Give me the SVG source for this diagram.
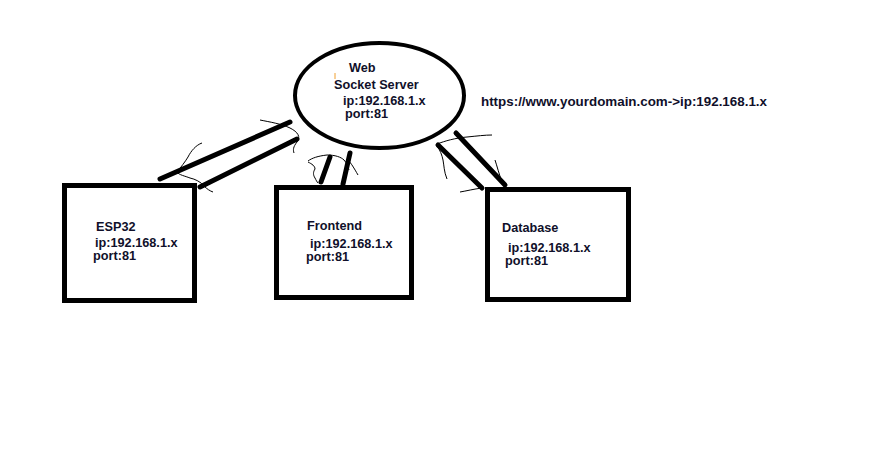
<svg xmlns="http://www.w3.org/2000/svg" width="883" height="460" viewBox="0 0 883 460">
<style>
  .box { fill: #ffffff; stroke: #000000; stroke-width: 5; }
  .ell { fill: #ffffff; stroke: #000000; stroke-width: 4; }
  .t { font-family: "Liberation Sans", Arial, sans-serif; font-weight: bold; font-size: 12.7px; fill: #10102a; }
  .thick { stroke: #000000; stroke-width: 5; stroke-linecap: round; fill: none; }
  .thin { stroke: #000000; stroke-width: 1; fill: none; }
</style>
<rect width="883" height="460" fill="#ffffff"/>

<g id="connectors">
  <!-- ESP32 <-> Server -->
  <line class="thick" x1="160" y1="179" x2="290" y2="122"/>
  <line class="thick" x1="200" y1="187" x2="297" y2="139"/>
  <path class="thin" d="M260,120 C270,122 282,124 290,128 C298,132 301,137 297,142 C293,147 293,150 294,153"/>
  <path class="thin" d="M202,143 C196,145 191,151 188,157 C185,162 181,167 177,172 C179,175 185,176 190,178 C195,179 201,182 204,186 C207,189 210,191 213,192"/>
  <!-- Frontend <-> Server -->
  <line class="thick" x1="330" y1="157" x2="321" y2="182"/>
  <line class="thick" x1="350" y1="153" x2="343" y2="184"/>
  <path class="thin" d="M308,161 C312,158 318,156 327,155 C335,155 341,157 344,160 C347,163 348,167 349,170"/>
  <path class="thin" d="M308,162 C312,164 315,166 315,169 C313,172 313,175 315,178 C316,180 317,182 318,183"/>
  <path class="thin" d="M348,160 C351,163 354,168 358,175"/>
  <!-- Database <-> Server -->
  <line class="thick" x1="438" y1="145" x2="482" y2="188"/>
  <line class="thick" x1="456" y1="133" x2="505" y2="185"/>
  <path class="thin" d="M437,144 C445,141 455,138 467,137 C477,136 485,135 492,135"/>
  <path class="thin" d="M437,146 C440,150 442,155 443,160 C444,165 444,172 447,179"/>
  <path class="thin" d="M460,192 C466,191 474,189 482,188"/>
  <path class="thin" d="M495,160 C497,166 499,174 502,182"/>
</g>

<g id="server">
  <ellipse class="ell" cx="379.5" cy="95.5" rx="84.5" ry="52.5"/>
  <line x1="335" y1="73" x2="335" y2="79" stroke="#f0a030" stroke-width="1"/>
  <text class="t" x="349" y="72">Web</text>
  <text class="t" x="334" y="89">Socket Server</text>
  <text class="t" x="343" y="105">ip:192.168.1.x</text>
  <text class="t" x="345" y="118">port:81</text>
</g>

<g id="url">
  <text class="t" x="481" y="106" textLength="286" lengthAdjust="spacingAndGlyphs">https://www.yourdomain.com-&gt;ip:192.168.1.x</text>
</g>

<g id="esp32">
  <rect class="box" x="64.5" y="185.5" width="130" height="115"/>
  <text class="t" x="96" y="231">ESP32</text>
  <text class="t" x="95" y="247">ip:192.168.1.x</text>
  <text class="t" x="93" y="260">port:81</text>
</g>

<g id="frontend">
  <rect class="box" x="276.5" y="187.5" width="135" height="110"/>
  <text class="t" x="307" y="230">Frontend</text>
  <text class="t" x="310" y="248">ip:192.168.1.x</text>
  <text class="t" x="306" y="261">port:81</text>
</g>

<g id="database">
  <rect class="box" x="487.5" y="189.5" width="141" height="110"/>
  <text class="t" x="502" y="232">Database</text>
  <text class="t" x="508" y="252">ip:192.168.1.x</text>
  <text class="t" x="505" y="265">port:81</text>
</g>
</svg>
